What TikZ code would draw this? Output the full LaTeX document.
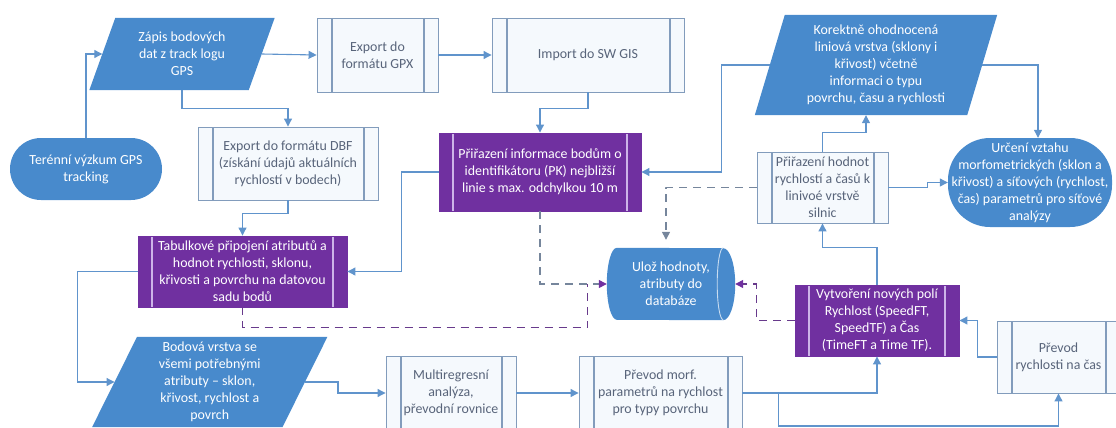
\documentclass[tikz,border=0pt]{standalone}
\usepackage{fontspec}
\setmainfont{Carlito}
\usetikzlibrary{arrows.meta,shapes.misc,backgrounds}
\definecolor{blu}{RGB}{72,138,204}
\definecolor{purp}{RGB}{112,48,160}
\definecolor{lav}{RGB}{205,180,232}
\definecolor{procline}{RGB}{130,156,188}
\definecolor{procfill}{RGB}{245,249,253}
\definecolor{proctext}{RGB}{88,100,122}
\definecolor{connc}{RGB}{96,148,204}
\definecolor{dgreyc}{RGB}{118,134,156}
\definecolor{dpurpc}{RGB}{104,58,140}
\newcommand\parafill[2]{\fill[blu] ([xshift=#2]#1.north west) -- ([xshift=#2]#1.north east) -- ([xshift=-#2]#1.south east) -- ([xshift=-#2]#1.south west) -- cycle;}
\tikzset{
  proc/.style={draw=procline, fill=procfill, text=proctext, line width=0.9pt, align=center, inner sep=2pt,
    path picture={
      \draw[procline, line width=1.2pt] ([xshift=15pt]path picture bounding box.north west) -- ([xshift=15pt]path picture bounding box.south west);
      \draw[procline, line width=1.2pt] ([xshift=-14pt]path picture bounding box.north east) -- ([xshift=-14pt]path picture bounding box.south east);}},
  pproc/.style={draw=purp, fill=purp, text=white, line width=0.9pt, align=center, inner sep=2pt,
    path picture={
      \draw[lav, line width=1.2pt] ([xshift=14pt]path picture bounding box.north west) -- ([xshift=14pt]path picture bounding box.south west);
      \draw[lav, line width=1.2pt] ([xshift=-14pt]path picture bounding box.north east) -- ([xshift=-14pt]path picture bounding box.south east);}},
  paratext/.style={text=white, align=center, inner sep=0pt},
  stad/.style={rectangle, fill=blu, text=white, align=center, inner sep=0pt},
  dbtext/.style={rectangle, text=white, align=center, inner sep=0pt},
  conn/.style={draw=connc, line width=1.1pt, -{Triangle[length=8pt,width=8pt]}},
  dgrey/.style={draw=dgreyc, line width=1.3pt, dash pattern=on 8pt off 6pt},
  dpurp/.style={draw=dpurpc, line width=1.3pt, dash pattern=on 8pt off 6pt},
  ptip/.style={-{Triangle[length=8pt,width=8pt,color=purp]}}
}
\begin{document}
\begin{tikzpicture}[x=1pt,y=-1pt, font=\fontsize{13.9}{17}\selectfont]
\useasboundingbox (0,0) rectangle (1116,428);

% nodes
\node[stad, rounded corners=31pt, minimum width=152pt, minimum height=62pt] (term) at (86,169) {Terénní výzkum GPS\\tracking};
\node[paratext, minimum width=159pt, minimum height=72pt] (zapis) at (182,54) {Zápis bodových\\dat z track logu\\GPS};
\node[proc, minimum width=121pt, minimum height=74pt] (gpx) at (377.5,55) {Export do\\formátu GPX};
\node[proc, minimum width=192pt, minimum height=74pt] (import) at (588,55) {Import do SW GIS};
\node[pproc, minimum width=202pt, minimum height=78pt] (pk) at (540,172) {Přiřazení informace bodům o\\identifikátoru (PK) nejbližší\\linie s max. odchylkou 10 m};
\node[paratext, minimum width=212pt, minimum height=100pt] (kor) at (876,65) {Korektně ohodnocená\\liniová vrstva (sklony i\\křivost) včetně\\informaci o typu\\povrchu, času a rychlosti};
\node[stad, rounded corners=42pt, minimum width=164pt, minimum height=89pt] (urc) at (1030,182.5) {Určení vztahu\\morfometrických (sklon a\\křivost) a síťových (rychlost,\\čas) parametrů pro síťové\\analýzy};
\node[proc, minimum width=131pt, minimum height=71pt] (hod) at (822.5,187.5) {Přiřazení hodnot\\rychlostí a časů k\\linivoé vrstvě\\silnic};
\node[proc, minimum width=180pt, minimum height=73pt] (dbf) at (288,163.5) {Export do formátu DBF\\(získání údajů aktuálních\\rychlostí v bodech)};
\node[pproc, minimum width=209pt, minimum height=71pt] (tab) at (242.5,271.5) {Tabulkové připojení atributů a\\hodnot rychlosti, sklonu,\\křivosti a povrchu na datovou\\sadu bodů};
\node[dbtext, minimum width=128pt, minimum height=72pt] (db) at (671,284) {Ulož hodnoty,\\atributy do\\databáze};
\node[pproc, minimum width=164pt, minimum height=71pt] (vyt) at (877,320.5) {Vytvoření nových polí\\Rychlost (SpeedFT,\\SpeedTF) a Čas\\(TimeFT a Time TF).};
\node[paratext, minimum width=190pt, minimum height=90pt] (bod) at (209.75,382) {Bodová vrstva se\\všemi potřebnými\\atributy – sklon,\\křivost, rychlost a\\povrch};
\node[proc, minimum width=130pt, minimum height=74pt] (multi) at (451,393) {Multiregresní\\analýza,\\převodní rovnice};
\node[proc, minimum width=163pt, minimum height=74pt] (morf) at (660.5,393) {Převod morf.\\parametrů na rychlost\\pro typy povrchu};
\node[proc, minimum width=123pt, minimum height=72pt] (rych) at (1058.5,357) {Převod\\rychlosti na čas};

\begin{scope}[on background layer]
\parafill{zapis}{13pt}
\parafill{kor}{15pt}
\parafill{bod}{22.5pt}
% horizontal drum for the database
\fill[blu] ([xshift=10pt]db.north west)
  arc[start angle=90, end angle=270, x radius=10pt, y radius=36pt]
  -- ([xshift=-12pt]db.south east)
  arc[start angle=270, end angle=450, x radius=12pt, y radius=36pt]
  -- cycle;
\draw[white!70!blu, line width=0.9pt] ([xshift=-12pt]db.north east)
  arc[start angle=90, end angle=270, x radius=6pt, y radius=36pt];
\end{scope}

% solid connectors
\draw[conn] (term.north) |- (zapis.west);
\draw[conn] (zapis.east) -- (gpx.west);
\draw[conn] (gpx.east) -- (import.west);
\draw[conn] (import.south) -- ++(0,16) -| (pk.north);
\draw[conn] (kor.west) -- ++(-48,0) |- (pk.east);
\draw[conn] (kor.east) -| ([xshift=8pt]urc.north);
\draw[conn] (hod.north) -- ++(0,-19) -| ([xshift=-10pt]kor.south);
\draw[conn] (hod.east) -- ++(39,0) |- (urc.west);
\draw[conn] (zapis.south) -- ++(0,18) -| (dbf.north);
\draw[conn] (dbf.south) -- ++(0,13) -| (tab.north);
\draw[conn] (pk.west) -- ++(-37,0) |- (tab.east);
\draw[conn] (tab.west) -- ++(-60,0) |- (bod.west);
\draw[conn] (bod.east) -- ++(33,0) |- (multi.west);
\draw[conn] (multi.east) -- (morf.west);
\draw[conn] (morf.east) -| (vyt.south);
\draw[conn] ([xshift=36pt]morf.east) -- ++(0,33) -| (rych.south);
\draw[conn] (rych.west) -- ++(-19,0) |- (vyt.east);
\draw[conn] (vyt.north) -- ++(0,-37) -| (hod.south);

% dashed connectors
\draw[dgrey, -{Triangle[length=8pt,width=8pt]}, shorten >=8pt] (hod.west) -- ++(-91,0) -| ([xshift=-5pt]db.north);
\draw[dpurp] (tab.south) -- ++(0,20) -| ([xshift=-19pt]db.west);
\draw[dgrey, ptip] (pk.south) |- (db.west);
\draw[dpurp, ptip] (vyt.west) -- ++(-38,0) |- (db.east);
\end{tikzpicture}
\end{document}
